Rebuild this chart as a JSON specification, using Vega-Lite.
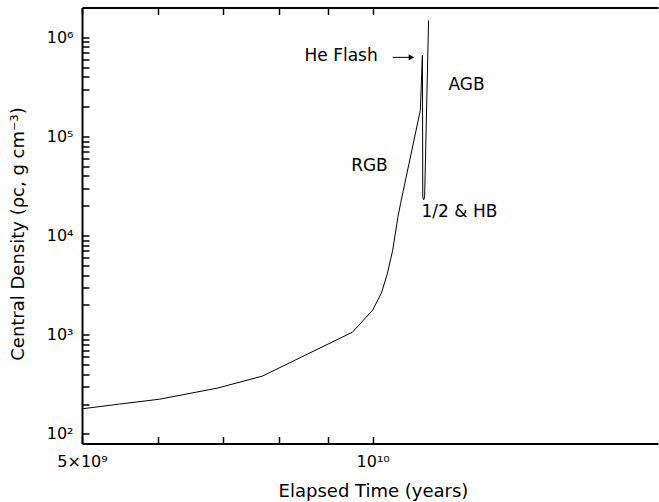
{
  "$schema": "https://vega.github.io/schema/vega-lite/v6.json",
  "width": 576,
  "height": 436,
  "autosize": {"type": "none"},
  "padding": {"left": 82, "top": 7.5, "right": 1, "bottom": 58.5},
  "background": "white",
  "config": {
    "view": {"stroke": null, "fill": null},
    "font": "DejaVu Sans",
    "axis": {"grid": false, "zindex": 2, "domainColor": "black", "domainWidth": 2, "labelColor": "black", "titleColor": "black", "titleFontWeight": "normal"}
  },
  "datasets": {
    "curve": [
      {"i": 0, "t": 5.0e9, "rho": 179},
      {"i": 1, "t": 5.47e9, "rho": 200},
      {"i": 2, "t": 6.02e9, "rho": 224},
      {"i": 3, "t": 6.91e9, "rho": 290},
      {"i": 4, "t": 7.69e9, "rho": 383},
      {"i": 5, "t": 9.53e9, "rho": 1062},
      {"i": 6, "t": 1.0e10, "rho": 1771},
      {"i": 7, "t": 1.021e10, "rho": 2624},
      {"i": 8, "t": 1.036e10, "rho": 4178},
      {"i": 9, "t": 1.049e10, "rho": 7124},
      {"i": 10, "t": 1.062e10, "rho": 15300},
      {"i": 11, "t": 1.069e10, "rho": 21200},
      {"i": 12, "t": 1.1205e10, "rho": 184000},
      {"i": 13, "t": 1.126e10, "rho": 660000},
      {"i": 14, "t": 1.1265e10, "rho": 150000},
      {"i": 15, "t": 1.127e10, "rho": 24500},
      {"i": 16, "t": 1.1295e10, "rho": 23000},
      {"i": 17, "t": 1.132e10, "rho": 24500},
      {"i": 18, "t": 1.1427e10, "rho": 1480000}
    ],
    "labels": [
      {"t": 8.5e9, "rho": 643000, "label": "He Flash"},
      {"t": 1.198e10, "rho": 328000, "label": "AGB"},
      {"t": 9.5e9, "rho": 50000, "label": "RGB"},
      {"t": 1.1235e10, "rho": 17200, "label": "1/2 & HB"}
    ],
    "arrow": [
      {"t": 1.049e10, "t2": 1.092e10, "tip": 1.097e10, "rho": 628000}
    ]
  },
  "layer": [
    {
      "layer": [
        {
          "data": {"name": "curve"},
          "mark": {"type": "line", "color": "black", "strokeWidth": 1},
          "encoding": {
            "x": {"field": "t", "type": "quantitative",
              "scale": {"type": "log", "domain": [5e9, 1.975e10], "nice": false},
              "axis": {"orient": "bottom", "values": [5e9, 6e9, 7e9, 8e9, 9e9, 1e10], "ticks": true, "tickSize": -7, "tickColor": "#000000", "tickWidth": 1.5, "tickOpacity": 1,
                "labelExpr": "datum.value == 5e9 ? '5×10⁹' : (datum.value == 1e10 ? '10¹⁰' : '')",
                "labelPadding": 29.5, "labelBaseline": "alphabetic", "labelFlush": false, "labelOverlap": false, "labelFontSize": 16,
                "title": "Elapsed Time (years)", "titleFontSize": 18, "titleX": 291, "titleY": 52.5, "titleBaseline": "alphabetic", "titleAlign": "center"}},
            "y": {"field": "rho", "type": "quantitative",
              "scale": {"type": "log", "domain": [80, 2000000], "nice": false},
              "axis": {"orient": "left", "ticks": true, "tickSize": -7, "tickColor": "#000000", "tickWidth": 1.5, "tickOpacity": 1,
                "values": [100,200,300,400,500,600,700,800,900,1000,2000,3000,4000,5000,6000,7000,8000,9000,10000,20000,30000,40000,50000,60000,70000,80000,90000,100000,200000,300000,400000,500000,600000,700000,800000,900000,1000000],
                "labelExpr": "datum.value == 100 ? '10²' : datum.value == 1000 ? '10³' : datum.value == 10000 ? '10⁴' : datum.value == 100000 ? '10⁵' : datum.value == 1000000 ? '10⁶' : ''",
                "labelPadding": 16, "labelOverlap": false, "labelFlush": false, "labelFontSize": 16,
                "title": "Central Density (ρc, g cm⁻³)", "titleFontSize": 18, "titleX": -59, "titleY": 226, "titleAngle": 270, "titleBaseline": "alphabetic", "titleAlign": "center"}},
            "order": {"field": "i", "type": "quantitative"}
          }
        },
        {
          "data": {"name": "arrow"},
          "mark": {"type": "rule", "color": "black", "strokeWidth": 1},
          "encoding": {
            "x": {"field": "t", "type": "quantitative"},
            "x2": {"field": "t2"},
            "y": {"field": "rho", "type": "quantitative"}
          }
        },
        {
          "data": {"name": "arrow"},
          "mark": {"type": "point", "shape": "triangle-right", "filled": true, "color": "black", "size": 40, "opacity": 1},
          "encoding": {
            "x": {"field": "tip", "type": "quantitative"},
            "y": {"field": "rho", "type": "quantitative"}
          }
        }
      ]
    },
    {
      "data": {"name": "labels"},
      "mark": {"type": "text", "align": "left", "baseline": "middle", "fontSize": 17, "color": "black"},
      "encoding": {
        "x": {"field": "t", "type": "quantitative",
          "scale": {"type": "log", "domain": [5e9, 1.975e10], "nice": false},
          "axis": {"orient": "top", "values": [5e9, 6e9, 7e9, 8e9, 9e9, 1e10], "labels": false, "ticks": true, "tickSize": -7, "tickColor": "#000000", "tickWidth": 1.5, "tickOpacity": 1, "title": null}},
        "y": {"field": "rho", "type": "quantitative",
          "scale": {"type": "log", "domain": [80, 2000000], "nice": false}, "axis": null},
        "text": {"field": "label"}
      }
    }
  ],
  "resolve": {"scale": {"x": "independent", "y": "independent"}}
}
